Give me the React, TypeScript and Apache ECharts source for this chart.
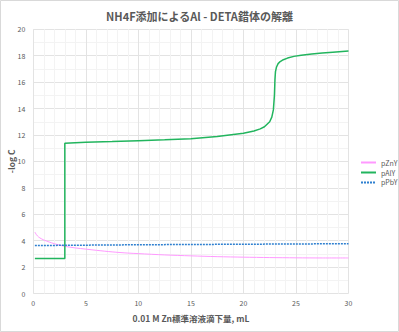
import React, { useEffect, useRef } from "react";
import * as echarts from "echarts";

const titleText = "NH4F添加によるAl - DETA錯体の解離";
const xAxisName = "0.01 M Zn標準溶液滴下量, mL";
const yAxisName = "-log C";

const pZnX = [0.15, 0.3, 0.5, 0.75, 1, 1.5, 2, 2.5, 3, 4, 5, 6, 7.5, 9, 10, 12.5, 15, 17.5, 20, 22.5, 25, 27.5, 30];
const pZnV = [4.65, 4.45, 4.28, 4.15, 4.05, 3.9, 3.77, 3.66, 3.57, 3.45, 3.36, 3.27, 3.15, 3.06, 3.02, 2.92, 2.85, 2.79, 2.75, 2.72, 2.7, 2.69, 2.69];

const pAlX = [0.15, 3, 3, 5, 7.5, 10, 12.5, 15, 17.5, 20, 21, 21.6, 22, 22.5, 22.7, 22.85, 22.95, 23.0, 23.05, 23.15, 23.3, 23.5, 23.8, 24.2, 24.8, 25.5, 26.5, 27.5, 28.5, 30];
const pAlV = [2.65, 2.65, 11.38, 11.45, 11.5, 11.57, 11.64, 11.72, 11.88, 12.13, 12.3, 12.46, 12.62, 13.0, 13.35, 13.9, 15.0, 16.2, 16.8, 17.15, 17.4, 17.56, 17.7, 17.82, 17.95, 18.04, 18.13, 18.2, 18.26, 18.35];

const pPbX = [0.15, 5, 10, 15, 20, 25, 30];
const pPbV = [3.63, 3.66, 3.69, 3.71, 3.73, 3.75, 3.77];

const zip = (xs: number[], ys: number[]) => xs.map((x, i) => [x, ys[i]]);

export default function App() {
  const ref = useRef<HTMLDivElement>(null);
  useEffect(() => {
    document.body.style.margin = "0";
    const chart = echarts.init(ref.current!, null, { renderer: "svg" });
    const font = "'Noto Sans CJK JP', 'Noto Sans', sans-serif";
    chart.setOption({
      animation: false,
      backgroundColor: "#ffffff",
      textStyle: { fontFamily: font },
      title: {
        text: titleText,
        left: "center",
        top: 5,
        textStyle: { fontSize: 11, fontWeight: "bold", color: "#595959", fontFamily: font },
      },
      graphic: [
        {
          type: "rect",
          shape: { x: 0.5, y: 0.5, width: 398, height: 331 },
          style: { fill: "none", stroke: "#d9d9d9", lineWidth: 1 },
          silent: true,
        },
      ],
      legend: {
        orient: "vertical",
        left: 360,
        top: 159,
        padding: 0,
        itemWidth: 15,
        itemHeight: 8,
        itemGap: 3,
        itemStyle: { opacity: 0 },
        textStyle: { fontSize: 7, color: "#595959", fontFamily: font },
        data: ["pZnY", "pAlY", "pPbY"],
      },
      grid: { left: 33.3, right: 50.5, top: 29.3, bottom: 38.5, containLabel: false, outerBoundsMode: "none" },
      xAxis: {
        type: "value",
        min: 0,
        max: 30,
        interval: 5,
        name: xAxisName,
        nameLocation: "middle",
        nameGap: 20,
        nameMoveOverlap: false,
        nameTextStyle: { fontSize: 8.5, fontWeight: "bold", color: "#595959", fontFamily: font },
        axisLine: { show: false },
        axisTick: { show: false },
        axisLabel: { fontSize: 7, color: "#595959", margin: 6 },
        splitLine: { show: true, lineStyle: { color: "#e3e3e3", width: 1 } },
        minorTick: { show: false, splitNumber: 5 },
        minorSplitLine: { show: true, lineStyle: { color: "#f3f3f3", width: 1 } },
      },
      yAxis: {
        type: "value",
        min: 0,
        max: 20,
        interval: 2,
        name: yAxisName,
        nameLocation: "middle",
        nameGap: 18,
        nameMoveOverlap: false,
        nameTextStyle: { fontSize: 8.5, fontWeight: "bold", color: "#595959", fontFamily: font },
        axisLine: { show: false },
        axisTick: { show: false },
        axisLabel: { fontSize: 7, color: "#595959", margin: 8 },
        splitLine: { show: true, lineStyle: { color: "#e3e3e3", width: 1 } },
        minorTick: { show: false, splitNumber: 2 },
        minorSplitLine: { show: true, lineStyle: { color: "#f3f3f3", width: 1 } },
      },
      series: [
        {
          name: "pZnY",
          type: "line",
          data: zip(pZnX, pZnV),
          symbol: "none",
          smooth: 0.3,
          color: "#ff99ff",
          lineStyle: { width: 1, color: "#ff99ff" },
        },
        {
          name: "pAlY",
          type: "line",
          data: zip(pAlX, pAlV),
          symbol: "none",
          color: "#22b55e",
          lineStyle: { width: 1.5, color: "#22b55e" },
        },
        {
          name: "pPbY",
          type: "line",
          data: zip(pPbX, pPbV),
          symbol: "none",
          color: "#2f80d0",
          lineStyle: { width: 1.5, color: "#2f80d0", type: [2, 1] },
        },
      ],
    });
    return () => chart.dispose();
  }, []);
  return <div ref={ref} style={{ width: 399, height: 332 }} />;
}
